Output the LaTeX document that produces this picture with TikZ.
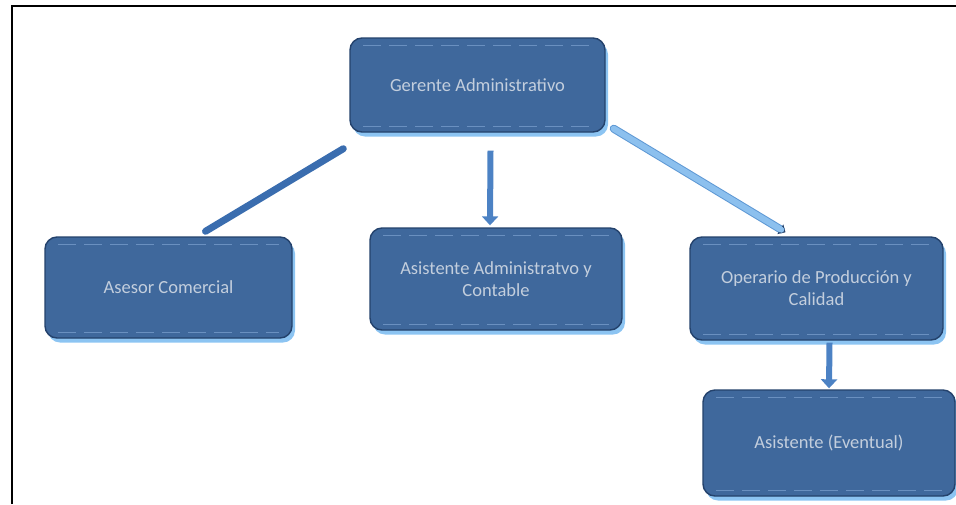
\documentclass[tikz,border=0pt]{standalone}
\usepackage{fontspec}
\setmainfont{Carlito}
\usepackage{xcolor}
\usetikzlibrary{arrows.meta,calc,shadows}

\definecolor{boxfill}{HTML}{3F689C}
\definecolor{boxedge}{HTML}{24426C}
\definecolor{boxtext}{HTML}{C3CEDD}
\definecolor{boxglow}{HTML}{8CC4F2}
\definecolor{boxdash}{HTML}{6A90C0}
\definecolor{linkdark}{HTML}{3A6DAF}
\definecolor{linkmid}{HTML}{4C82C4}
\definecolor{linklight}{HTML}{8CC0EE}
\definecolor{linkedge}{HTML}{5E98D4}

\begin{document}
\begin{tikzpicture}[x=1pt,y=-1pt,
    orgbox/.style={draw=boxedge, line width=1.4pt, fill=boxfill, rounded corners=12pt,
      text=boxtext, align=center, inner sep=0pt, font=\fontsize{18.5}{22}\selectfont,
      minimum width=252pt, minimum height=102pt,
      drop shadow={shadow xshift=3pt, shadow yshift=-4.5pt, fill=boxglow, opacity=1}},
    innerdash/.style={draw=boxdash, line width=1.2pt, dash pattern=on 18pt off 8pt},
    link/.style={line width=6pt, draw=#1, line cap=round},
    downarrow/.style={line width=6pt, draw=linkmid, -{Triangle[width=16pt,length=9pt]}}]
    \useasboundingbox (0,0) rectangle (956,504);
    % frame
    \draw[line width=2pt] (12,504) -- (12,6) -- (956,6);
    % boxes
    \node[orgbox, minimum width=255pt, minimum height=94pt] (ger) at (477.5,85) {Gerente Administrativo};
    \node[orgbox, minimum width=247pt, minimum height=101pt] (ase) at (168.5,287.5) {Asesor Comercial};
    \node[orgbox] (adm) at (496,279) {Asistente Administratvo y\\Contable};
    \node[orgbox, minimum width=253pt, minimum height=103pt] (ope) at (816.5,288.5) {Operario de Producción y\\Calidad};
    \node[orgbox, minimum height=106pt] (eve) at (829,443) {Asistente (Eventual)};
    % inner dashes
    \foreach \n in {ger,ase,adm,ope,eve}{
      \draw[innerdash] ($(\n.north west)+(14,8)$) -- ($(\n.north east)+(-14,8)$);
      \draw[innerdash] ($(\n.south west)+(14,-6)$) -- ($(\n.south east)+(-14,-6)$);
    }
    % connectors
    \draw[link=linkdark, line width=7pt] ($(ger.south west)+(-6,16)$) -- ($(ase.north)+(37,-5)$);
    \draw[downarrow] ($(ger.south)+(13,18)$) -- ($(adm.north)+(-6,-2)$);
    \draw[line width=8pt, draw=linkedge, line cap=round, -{Triangle[width=11pt,length=6pt,color=boxedge]}]
      ($(ger.south east)+(8,-4)$) -- ($(ope.north)+(-31,-4)$);
    \draw[link=linklight, shorten >=5pt] ($(ger.south east)+(8,-4)$) -- ($(ope.north)+(-31,-4)$);
    \draw[downarrow] ($(ope.south)+(13,2)$) -- ($(eve.north)+(0,-1)$);
\end{tikzpicture}
\end{document}
